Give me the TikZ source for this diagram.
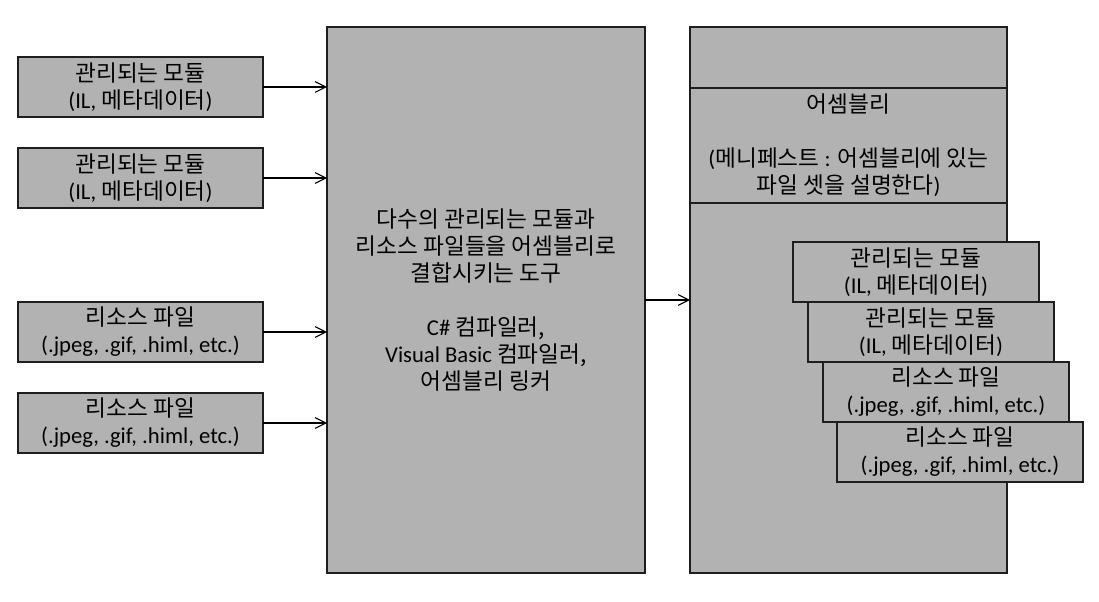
\documentclass[tikz,border=0pt]{standalone}
\usepackage{fontspec}
\setmainfont{Noto Sans CJK KR}
\newfontfamily\lat{Carlito}
\usetikzlibrary{arrows.meta}
\definecolor{boxfill}{RGB}{178,178,178}
\definecolor{boxline}{RGB}{30,30,30}
\tikzset{
  pbox/.style={draw=boxline, fill=boxfill, line width=1.5pt, inner sep=0pt, outer sep=0pt,
    anchor=north west, align=center, font=\fontsize{17}{20.25}\selectfont},
  sbox/.style={pbox, minimum width={245*0.75pt}, minimum height={60*0.75pt}},
  txt/.style={align=center, inner sep=0pt, font=\fontsize{17}{20.25}\selectfont},
  conn/.style={draw=black, line width=0.8pt, -{Straight Barb[length=8pt,width=8pt,line width=0.8pt]}},
  sep/.style={draw=boxline, line width=0.8pt}
}
\begin{document}
\begin{tikzpicture}[x=0.75pt,y=-0.75pt]
\useasboundingbox (0,0) rectangle (1099,602);
% left boxes
\node[sbox] (m1) at (18,57) {관리되는 모듈\\{\lat (IL,} 메타데이터{\lat )}};
\node[sbox] (m2) at (18,148) {관리되는 모듈\\{\lat (IL,} 메타데이터{\lat )}};
\node[sbox] (r1) at (18,302) {리소스 파일\\{\lat (.jpeg, .gif, .himl, etc.)}};
\node[sbox] (r2) at (18,393) {리소스 파일\\{\lat (.jpeg, .gif, .himl, etc.)}};
% middle tool box
\node[pbox, minimum width={318*0.75pt}, minimum height={546*0.75pt}] (tool) at (327,27) {};
\node[txt] (tooltxt) at (tool.center) {다수의 관리되는 모듈과\\리소스 파일들을 어셈블리로\\결합시키는 도구\\[20.25pt]{\lat C\#} 컴파일러,\\{\lat Visual Basic} 컴파일러,\\어셈블리 링커};
% right assembly box
\node[pbox, minimum width={317*0.75pt}, minimum height={546*0.75pt}] (asm) at (690,27) {};
\draw[sep] (690,88) -- (1007,88);
\draw[sep] (690,203) -- (1007,203);
\node[txt] (asmtxt) at (848.5,145.5) {어셈블리\\[20.25pt]{\lat (}메니페스트 {\lat :} 어셈블리에 있는\\파일 셋을 설명한다{\lat )}};
% inner boxes
\node[sbox, minimum width={246*0.75pt}] (a1) at (793,242) {관리되는 모듈\\{\lat (IL,} 메타데이터{\lat )}};
\node[sbox, minimum width={246*0.75pt}] (a2) at (808,302) {관리되는 모듈\\{\lat (IL,} 메타데이터{\lat )}};
\node[sbox, minimum width={246*0.75pt}] (a3) at (823,362) {리소스 파일\\{\lat (.jpeg, .gif, .himl, etc.)}};
\node[sbox, minimum width={246*0.75pt}] (a4) at (837,422) {리소스 파일\\{\lat (.jpeg, .gif, .himl, etc.)}};
% connectors
\draw[conn] (m1.east) -- (m1.east -| tool.west);
\draw[conn] (m2.east) -- (m2.east -| tool.west);
\draw[conn] (r1.east) -- (r1.east -| tool.west);
\draw[conn] (r2.east) -- (r2.east -| tool.west);
\draw[conn] (tool.east) -- (asm.west);
\end{tikzpicture}
\end{document}
